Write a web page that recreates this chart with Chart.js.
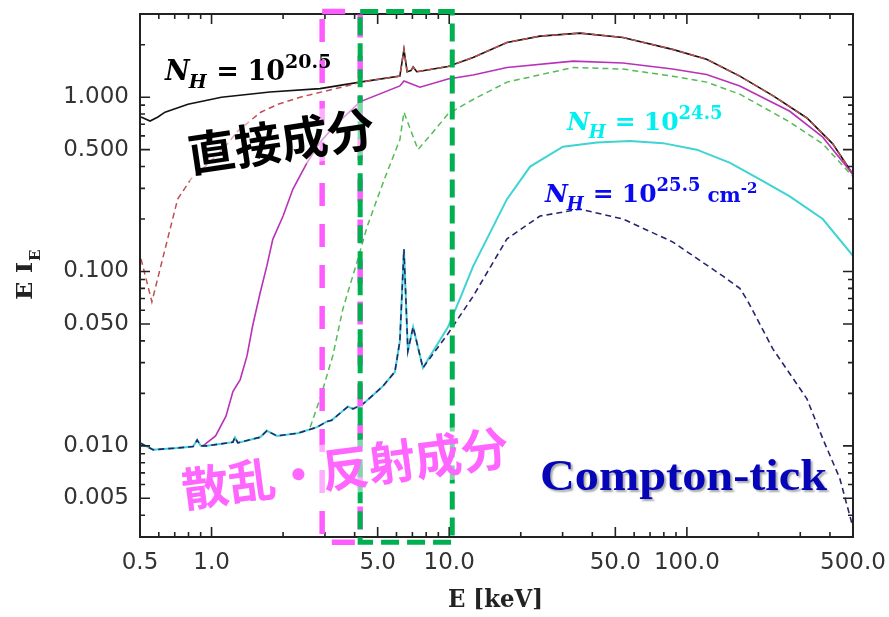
<!DOCTYPE html>
<html>
<head>
<meta charset="utf-8">
<script src="https://cdn.jsdelivr.net/npm/chart.js@4/dist/chart.umd.min.js"></script>
<style>
html,body{margin:0;padding:0;background:#fff;}
#wrap{width:889px;height:617px;}
</style>
</head>
<body>
<div id="wrap"><canvas id="c" width="889" height="617"></canvas></div>
<script>
// ---- Data (E in keV, E*I_E) ----
// Direct component, N_H = 10^20.5 (black solid)
const eDirect = [0.505,0.551,0.595,0.637,0.796,1.10,1.76,2.86,4.21,6.2,6.45,6.65,6.9,7.05,7.3,7.53,9.88,12.6,17.5,24.1,35.5,53.8,87,121,167,230,320,411,500];
const iDirect = [0.77,0.73,0.77,0.82,0.91,1.00,1.07,1.12,1.22,1.32,1.88,1.40,1.42,1.49,1.40,1.41,1.50,1.69,2.06,2.24,2.33,2.20,1.88,1.65,1.32,1.02,0.76,0.54,0.36];
// Absorbed direct (red dashed), low-energy part; joins the black curve above 4 keV
const eAbsLow = [0.505,0.561,0.637,0.72,0.82,0.94,1.14,1.29,1.61,1.90,2.36,3.24,4.0];
const iAbsLow = [0.118,0.067,0.134,0.26,0.34,0.40,0.52,0.64,0.82,0.91,1.00,1.11,1.19];
// Magenta solid
const eMag = [0.92,1.04,1.15,1.23,1.32,1.41,1.49,1.60,1.71,1.81,2.0,2.2,2.52,2.86,3.24,4.21,6.2,6.45,7.53,9.88,12.6,17.5,33.2,53.8,87,121,167,271,373,500];
const iMag = [0.0100,0.0114,0.0148,0.0205,0.024,0.0328,0.049,0.075,0.108,0.153,0.208,0.297,0.42,0.55,0.67,0.94,1.16,1.24,1.14,1.27,1.34,1.48,1.61,1.57,1.45,1.35,1.16,0.83,0.59,0.36];
// Green dashed
const eGreen = [2.6,2.86,3.24,3.57,4.09,4.51,4.97,5.47,6.2,6.45,7.39,8.54,9.88,12.6,17.5,33.2,53.8,87,121,167,271,373,500];
const iGreen = [0.0128,0.0186,0.033,0.061,0.113,0.18,0.26,0.37,0.57,0.82,0.50,0.63,0.80,0.97,1.22,1.48,1.45,1.32,1.22,1.04,0.72,0.54,0.35];
// Compton-thick, N_H = 10^25.5 (navy dashed)
const eThick = [0.50,0.567,0.70,0.836,0.87,0.90,0.957,1.23,1.255,1.29,1.60,1.71,1.885,2.3,2.78,3.06,3.2,3.75,3.94,4.34,4.97,5.26,5.91,6.2,6.45,6.7,7.05,7.75,9.88,12.6,17.5,24.1,35.5,53.8,87,142,167,179,230,320,373,440,500];
const iThick = [0.0104,0.0095,0.0097,0.0099,0.0108,0.0100,0.0100,0.0105,0.0112,0.0104,0.0112,0.0122,0.0114,0.0118,0.0128,0.0138,0.0140,0.0168,0.0163,0.0174,0.0205,0.022,0.0266,0.040,0.134,0.035,0.048,0.028,0.044,0.072,0.154,0.208,0.228,0.200,0.148,0.094,0.080,0.069,0.036,0.0186,0.011,0.0065,0.0034];
// N_H = 10^24.5 (cyan solid), high-energy part; follows the navy curve below 9 keV
const eCyanHigh = [9.88,11.1,12.6,17.5,21.9,30.1,41.8,57.6,79.3,110,152,209,271,373,500];
const iCyanHigh = [0.048,0.07,0.107,0.26,0.40,0.52,0.55,0.56,0.545,0.50,0.42,0.33,0.27,0.20,0.123];

const xTicks = [0.5,1,5,10,50,100,500];
const yTicks = [0.005,0.01,0.05,0.1,0.5,1];

const pts = (e,v)=>e.map((x,i)=>({x:x,y:v[i]}));
const redData = pts(eAbsLow,iAbsLow).concat(pts(eDirect,iDirect).filter(p=>p.x>eAbsLow[eAbsLow.length-1]));
const cyanData = pts(eThick,iThick).filter(p=>p.x<eCyanHigh[0]).concat(pts(eCyanHigh,iCyanHigh));

function logMarks(min,max){
  const out=[];
  for(let p=Math.floor(Math.log10(min));p<=Math.ceil(Math.log10(max));p++){
    for(let m=1;m<10;m++){const v=m*Math.pow(10,p); if(v>=min*0.999&&v<=max*1.001) out.push(+v.toPrecision(6));}
  }
  return out;
}

function fitText(ctx,txt,x,y,w){
  const m=ctx.measureText(txt).width;
  ctx.save(); ctx.translate(x,y); ctx.scale(w/m,1); ctx.fillText(txt,0,0); ctx.restore();
}

function drawNH(ctx,x,y,exp,unit,color,size){
  ctx.save();
  ctx.fillStyle=color; ctx.textAlign='left'; ctx.textBaseline='alphabetic';
  const fam='"DejaVu Serif"';
  ctx.font=`italic bold ${size}px ${fam}`; ctx.fillText('N',x,y); x+=ctx.measureText('N').width;
  ctx.font=`italic bold ${Math.round(size*0.72)}px ${fam}`; ctx.fillText('H',x-1,y+size*0.3); x+=ctx.measureText('H').width;
  x+=size*0.32;
  ctx.font=`bold ${size}px ${fam}`; ctx.fillText('=',x,y); x+=ctx.measureText('=').width+size*0.32;
  ctx.fillText('10',x,y); x+=ctx.measureText('10').width;
  ctx.font=`bold ${Math.round(size*0.72)}px ${fam}`; ctx.fillText(exp,x,y-size*0.45); x+=ctx.measureText(exp).width;
  if(unit){
    x+=size*0.28;
    ctx.font=`bold ${Math.round(size*0.8)}px ${fam}`; ctx.fillText('cm',x,y); x+=ctx.measureText('cm').width;
    ctx.font=`bold ${Math.round(size*0.6)}px ${fam}`; ctx.fillText('-2',x,y-size*0.38);
  }
  ctx.restore();
}

function rotText(ctx,txt,cx,cy,ang,font,color,bg){
  ctx.save(); ctx.translate(cx,cy); ctx.rotate(ang*Math.PI/180);
  ctx.font=font; ctx.textAlign='center'; ctx.textBaseline='middle';
  const w=ctx.measureText(txt).width;
  if(bg){ctx.fillStyle=bg; ctx.fillRect(-w/2-4,-26,w+8,52);}
  ctx.fillStyle=color; ctx.fillText(txt,0,0); ctx.restore();
}

const decor={
  id:'decor',
  afterDraw(chart){
    const ctx=chart.ctx, a=chart.chartArea, xs=chart.scales.x, ys=chart.scales.y;
    ctx.save();
    // frame
    ctx.strokeStyle='#222'; ctx.lineWidth=2;
    ctx.strokeRect(a.left,a.top,a.right-a.left,a.bottom-a.top);
    // inward ticks
    ctx.lineWidth=1.6;
    logMarks(xs.min,xs.max).forEach(v=>{
      const px=xs.getPixelForValue(v), L=xTicks.includes(v)?10:5;
      ctx.beginPath(); ctx.moveTo(px,a.bottom); ctx.lineTo(px,a.bottom-L); ctx.moveTo(px,a.top); ctx.lineTo(px,a.top+L); ctx.stroke();
    });
    logMarks(ys.min,ys.max).forEach(v=>{
      const py=ys.getPixelForValue(v), L=yTicks.includes(v)?10:5;
      ctx.beginPath(); ctx.moveTo(a.left,py); ctx.lineTo(a.left+L,py); ctx.moveTo(a.right,py); ctx.lineTo(a.right-L,py); ctx.stroke();
    });
    // highlight boxes
    const bt=ys.getPixelForValue(3.1), bb=ys.getPixelForValue(0.0028);
    const m1=xs.getPixelForValue(2.92), m2=xs.getPixelForValue(4.22), g2=xs.getPixelForValue(10.3);
    ctx.lineWidth=5.5; ctx.strokeStyle='#ff5cff'; ctx.setLineDash([23,18]);
    ctx.strokeRect(m1,bt,m2-m1,bb-bt);
    ctx.lineWidth=5; ctx.strokeStyle='#00b050'; ctx.setLineDash([18,8]);
    ctx.strokeRect(m2,bt,g2-m2,bb-bt);
    ctx.setLineDash([]);
    // annotations
    rotText(ctx,'直接成分',281,141,-8.5,'bold 47px "Noto Sans CJK JP"','#000','rgba(255,255,255,0.5)');
    rotText(ctx,'散乱・反射成分',345,468,-7.6,'bold 47px "Noto Sans CJK JP"','#ff66ff','rgba(255,255,255,0.5)');
    drawNH(ctx,165,80,'20.5',false,'#000',27);
    drawNH(ctx,567,130,'24.5',false,'#00f0f0',25);
    drawNH(ctx,545,202,'25.5',true,'#0a0af0',25);
    // Compton-tick
    ctx.save();
    ctx.font='bold 44px "Liberation Serif"'; ctx.fillStyle='#0606b8';
    ctx.shadowColor='rgba(0,0,0,0.35)'; ctx.shadowOffsetX=2; ctx.shadowOffsetY=2; ctx.shadowBlur=2;
    ctx.textBaseline='alphabetic'; fitText(ctx,'Compton-tick',540,490,287);
    ctx.restore();
    // axis titles
    ctx.fillStyle='#222'; ctx.textBaseline='alphabetic';
    ctx.font='bold 24px "DejaVu Serif"';
    fitText(ctx,'E [keV]',448,607,95);
    ctx.save(); ctx.translate(32,300); ctx.rotate(-Math.PI/2);
    ctx.font='bold 22px "DejaVu Serif"'; fitText(ctx,'E I',0,0,38);
    ctx.font='bold 15px "DejaVu Serif"'; ctx.fillText('E',39,8);
    ctx.restore();
    ctx.restore();
  }
};

const noPad=s=>{s.paddingTop=0;s.paddingBottom=0;s.paddingLeft=0;s.paddingRight=0;};
const tickFont={family:'"DejaVu Sans"',size:23};
new Chart(document.getElementById('c'),{
  type:'line',
  data:{datasets:[
    {data:pts(eThick,iThick),borderColor:'#26266e',borderWidth:1.6,borderDash:[6,4],pointRadius:0,order:0},
    {data:cyanData,borderColor:'#3fd3d3',borderWidth:2,pointRadius:0,order:1},
    {data:pts(eGreen,iGreen),borderColor:'#55bb55',borderWidth:1.5,borderDash:[6,4],pointRadius:0,order:2},
    {data:pts(eMag,iMag),borderColor:'#b832b8',borderWidth:1.6,pointRadius:0,order:3},
    {data:redData,borderColor:'#c05050',borderWidth:1.5,borderDash:[6,4],pointRadius:0,order:4},
    {data:pts(eDirect,iDirect),borderColor:'#111',borderWidth:1.6,pointRadius:0,order:5}
  ]},
  options:{
    responsive:false,animation:false,
    layout:{padding:{top:14,right:36,left:0,bottom:0}},
    elements:{line:{tension:0}},
    plugins:{legend:{display:false},tooltip:{enabled:false}},
    scales:{
      x:{type:'logarithmic',min:0.5,max:500,
        grid:{display:false,drawTicks:false},border:{display:false},
        afterBuildTicks:s=>{s.ticks=xTicks.map(v=>({value:v}));},
        afterFit:s=>{s.height=80;noPad(s);},
        ticks:{autoSkip:false,maxRotation:0,minRotation:0,padding:12,font:tickFont,color:'#333',callback:v=>Number(v).toFixed(1)}},
      y:{type:'logarithmic',min:0.003,max:3,
        grid:{display:false,drawTicks:false},border:{display:false},
        afterBuildTicks:s=>{s.ticks=yTicks.map(v=>({value:v}));},
        afterFit:s=>{s.width=140;noPad(s);},
        ticks:{autoSkip:false,padding:11,font:tickFont,color:'#333',callback:v=>Number(v).toFixed(3)}}
    }
  },
  plugins:[decor]
});
</script>
</body>
</html>
